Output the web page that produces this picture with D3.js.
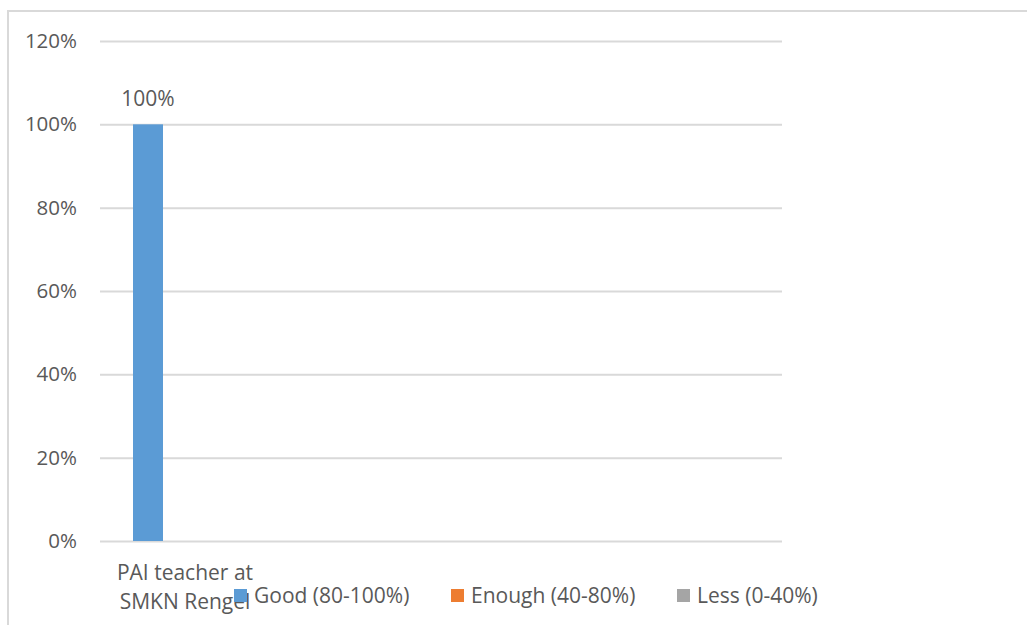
<!DOCTYPE html>
<html>
<head>
<meta charset="utf-8">
<script src="https://cdn.jsdelivr.net/npm/d3@7"></script>
<style>
  body { margin: 0; background: #fff; }
  text { font-family: "Open Sans", sans-serif; fill: #595959; }
</style>
</head>
<body>
<div id="chartHolder"></div>
<script>
// data
const categories = ["PAI teacher at SMKN Rengel"];
const categoryLines = [["PAI teacher at", "SMKN Rengel"]];
const seriesNames = ["Good (80-100%)", "Enough (40-80%)", "Less (0-40%)"];
const seriesColors = ["#5b9bd5", "#ed7d31", "#a5a5a5"];
const goodValues = [1.0];
const enoughValues = [null];
const lessValues = [null];
const yTicks = [0, 0.2, 0.4, 0.6, 0.8, 1.0, 1.2];

const w = 1027, h = 625;
const plot = { left: 100, right: 782, top: 41, bottom: 541 };

const svg = d3.select("#chartHolder").append("svg")
  .attr("width", w)
  .attr("height", h);

// chart border (clipped by the window on right and bottom)
svg.append("rect")
  .attr("x", 8).attr("y", 11)
  .attr("width", 1040).attr("height", 640)
  .attr("fill", "none")
  .attr("stroke", "#d9d9d9")
  .attr("stroke-width", 2);

const y = d3.scaleLinear().domain([0, 1.2]).range([plot.bottom, plot.top]);

// category band sits at the left of the plot area
const x0 = d3.scaleBand().domain(categories).range([plot.left, 270]);
const x1 = d3.scaleBand().domain(seriesNames).range([33, 123]);

// gridlines + tick labels
const yAxis = d3.axisLeft(y)
  .tickValues(yTicks)
  .tickFormat(d3.format(".0%"))
  .tickSize(-(plot.right - plot.left))
  .tickPadding(23);

const gy = svg.append("g")
  .attr("transform", `translate(${plot.left},0)`)
  .call(yAxis);
gy.select(".domain").remove();
gy.selectAll(".tick line").attr("stroke", "#d9d9d9").attr("stroke-width", 2);
gy.selectAll(".tick text")
  .style("font-size", "20.5px")
  .attr("fill", "#595959");

// bars
const table = categories.map((c, i) => ({
  category: c,
  values: [goodValues[i], enoughValues[i], lessValues[i]]
}));

const groups = svg.selectAll("g.cat")
  .data(table)
  .enter().append("g")
  .attr("class", "cat")
  .attr("transform", d => `translate(${x0(d.category)},0)`);

groups.selectAll("rect")
  .data(d => d.values.map((v, j) => ({ name: seriesNames[j], value: v, color: seriesColors[j] })))
  .enter().filter(d => d.value != null)
  .append("rect")
  .attr("x", d => x1(d.name))
  .attr("width", x1.bandwidth())
  .attr("y", d => y(d.value))
  .attr("height", d => y(0) - y(d.value))
  .attr("fill", d => d.color);

groups.selectAll("text.val")
  .data(d => d.values.map((v, j) => ({ name: seriesNames[j], value: v })))
  .enter().filter(d => d.value != null)
  .append("text")
  .attr("class", "val")
  .attr("x", d => x1(d.name) + x1.bandwidth() / 2)
  .attr("y", d => y(d.value) - 18)
  .attr("text-anchor", "middle")
  .style("font-size", "21px")
  .text(d => d3.format(".0%")(d.value));

// category label, two lines
categories.forEach((c, i) => {
  const t = svg.append("text")
    .attr("x", x0(c) + x0.bandwidth() / 2)
    .attr("y", 580)
    .attr("text-anchor", "middle")
    .style("font-size", "21px");
  categoryLines[i].forEach((line, k) => {
    t.append("tspan")
      .attr("x", x0(c) + x0.bandwidth() / 2)
      .attr("dy", k === 0 ? 0 : 29)
      .text(line);
  });
});

// legend
const legendX = [234, 451, 677];
const legend = svg.selectAll("g.legend")
  .data(seriesNames)
  .enter().append("g")
  .attr("class", "legend")
  .attr("transform", (d, i) => `translate(${legendX[i]},589)`);

legend.append("rect")
  .attr("width", 13).attr("height", 13)
  .attr("fill", (d, i) => seriesColors[i]);

legend.append("text")
  .attr("x", 20)
  .attr("y", 14)
  .style("font-size", "21px")
  .text(d => d);
</script>
</body>
</html>
